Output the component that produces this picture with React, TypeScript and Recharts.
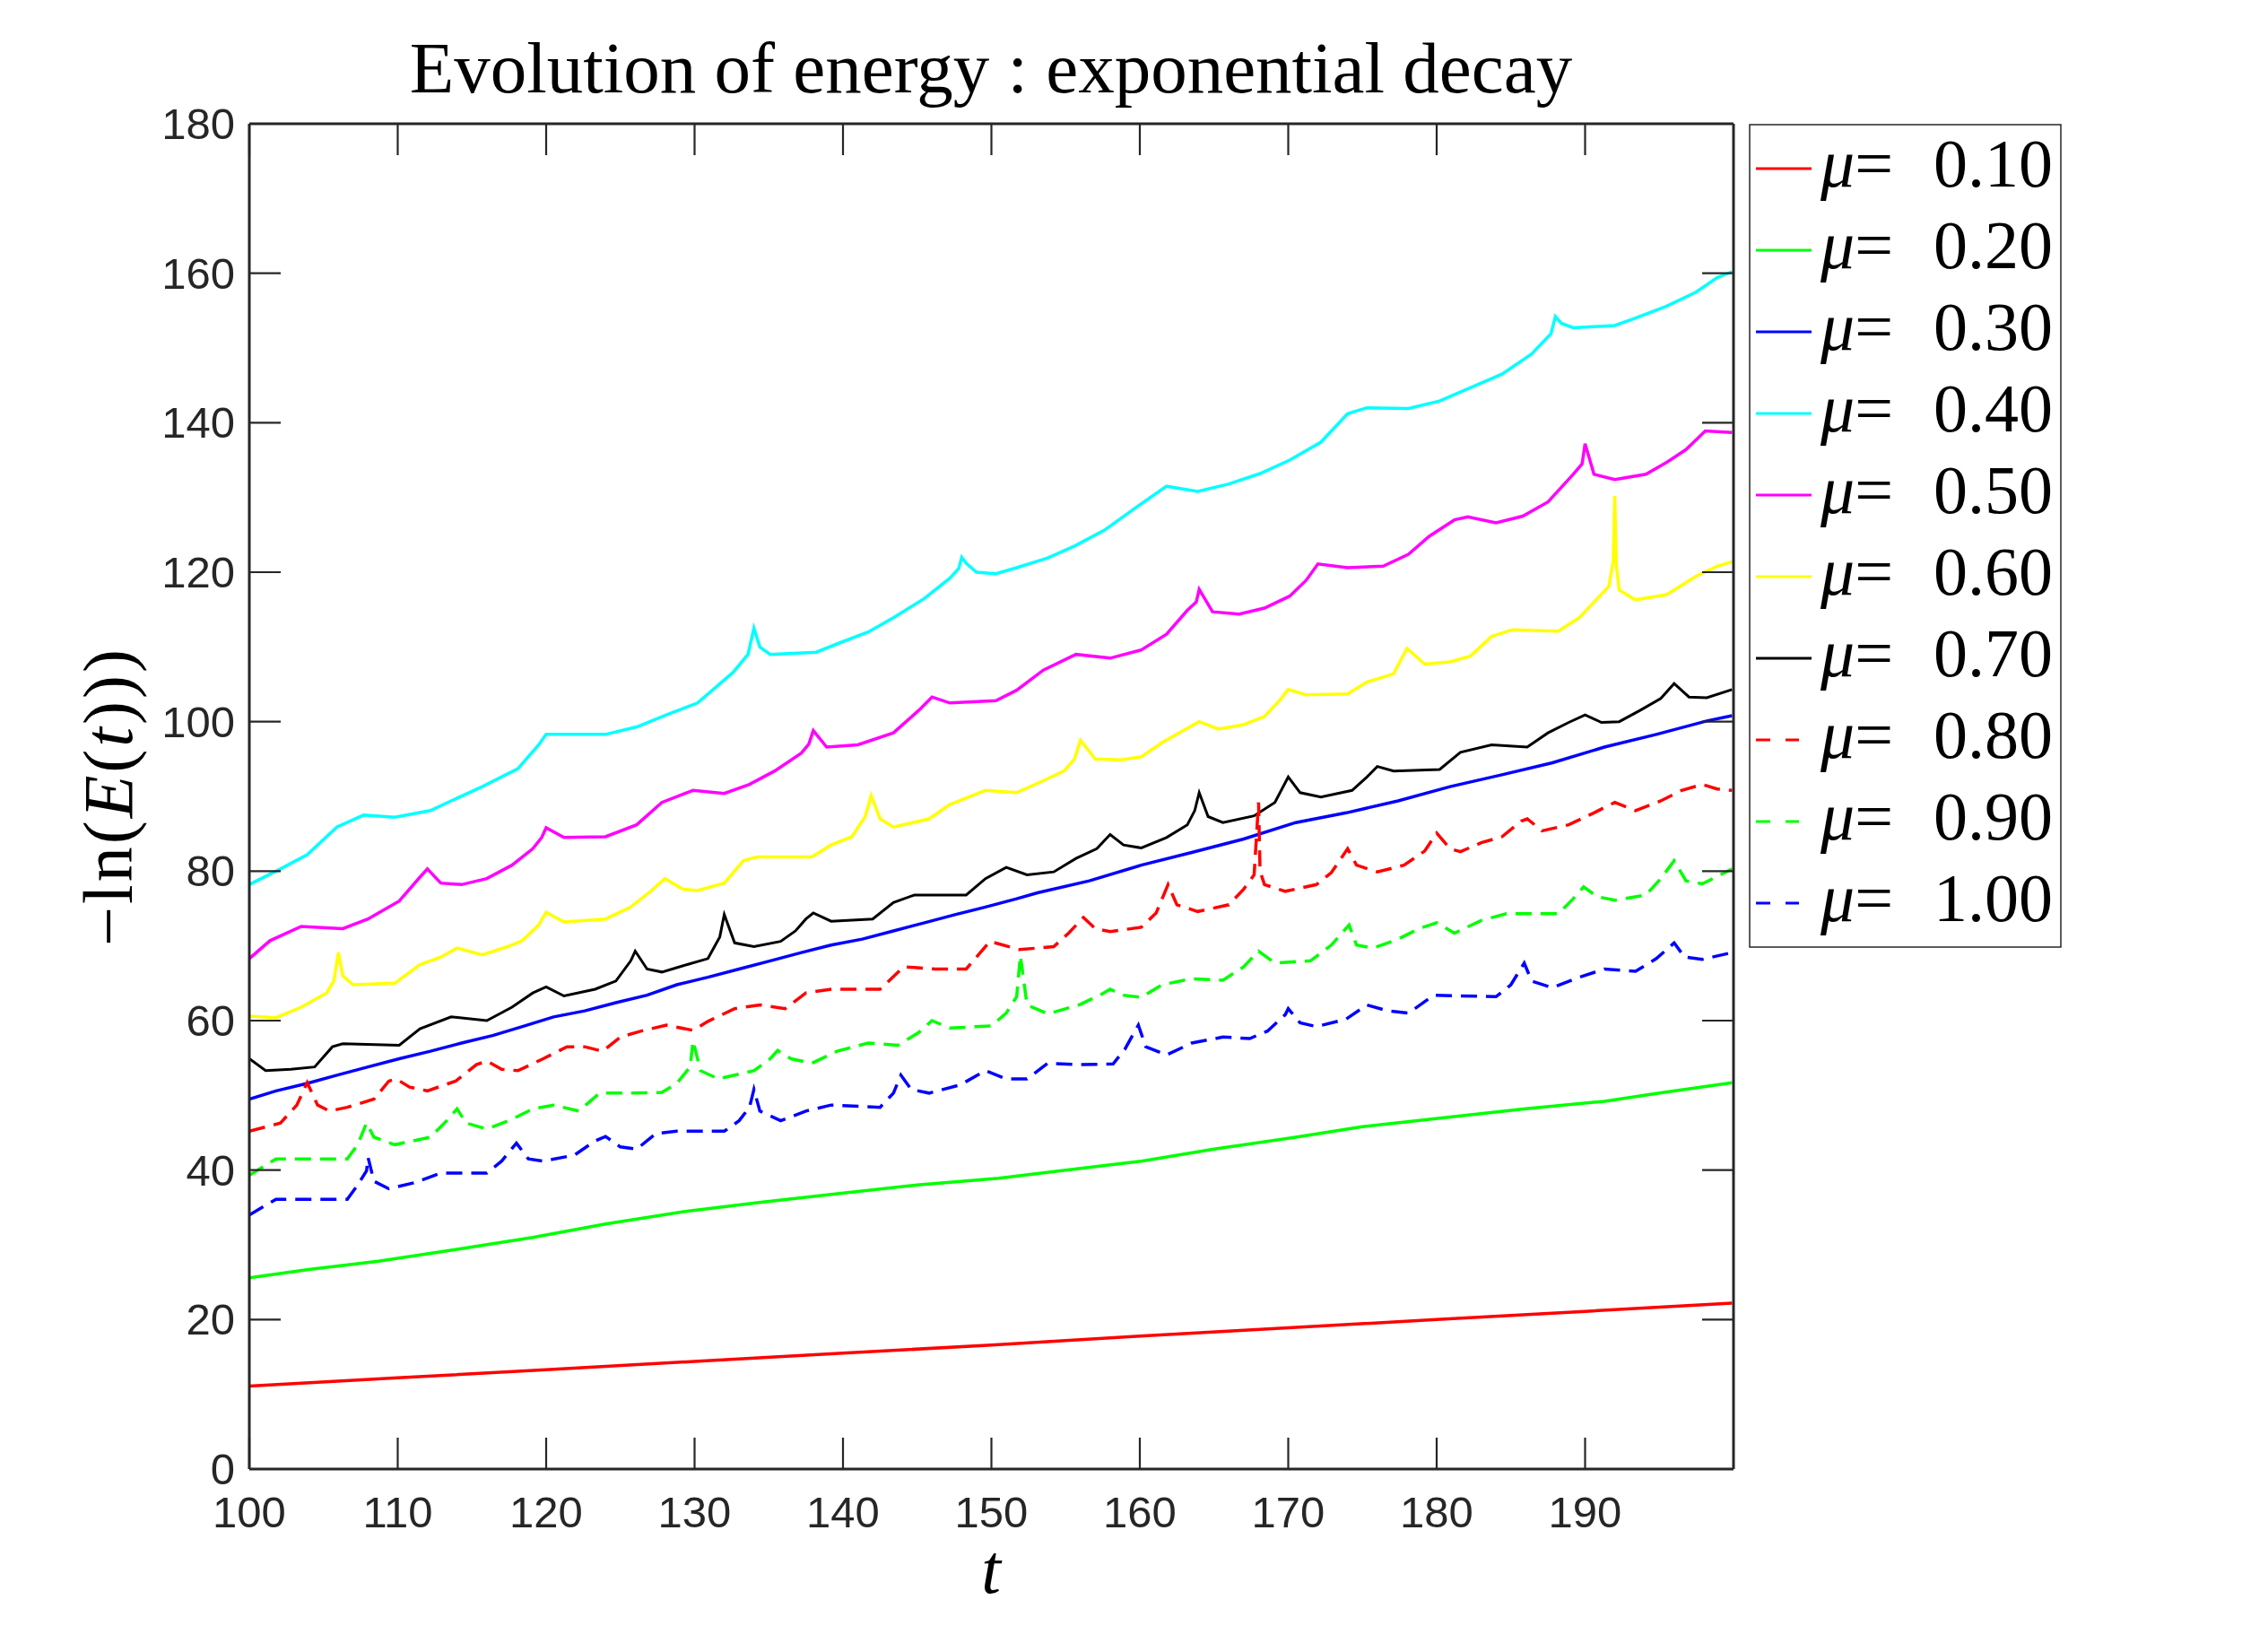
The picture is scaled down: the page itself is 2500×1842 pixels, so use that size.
import { Line, LineChart, XAxis, YAxis } from "recharts";

// axis ticks
const xTicks = [100, 110, 120, 130, 140, 150, 160, 170, 180, 190];
const yTicks = [0, 20, 40, 60, 80, 100, 120, 140, 160, 180];

// -ln(E(t)), [t, value]
const mu01: [number, number][] = [
  [100, 11.1], [110, 12.2], [120, 13.3], [130, 14.4], [140, 15.5], [150, 16.6],
  [160, 17.8], [170, 18.9], [180, 20.0], [190, 21.1], [199.9, 22.2],
];

const mu02: [number, number][] = [
  [100, 25.6], [104, 26.7], [108.7, 27.8], [114, 29.4], [119.1, 31.0], [124, 32.8],
  [129.5, 34.5], [134.5, 35.7], [139.9, 36.9], [145, 38.0], [150.5, 38.9], [155, 40.0],
  [160.1, 41.2], [165, 42.8], [170.5, 44.4], [175, 45.8], [180.9, 47.1], [186, 48.2],
  [191.3, 49.2], [195, 50.3], [199.9, 51.7],
];

const mu03: [number, number][] = [
  [100, 49.5], [101.8, 50.6], [103.9, 51.6], [105.9, 52.7], [108, 53.8], [110.1, 54.9],
  [112.2, 55.9], [114.3, 57.0], [116.4, 58.0], [118.4, 59.2], [120.5, 60.5], [122.6, 61.3],
  [124.7, 62.4], [126.8, 63.4], [128.8, 64.8], [130.9, 65.8], [133, 66.9], [135.1, 68.0],
  [137.2, 69.1], [139.2, 70.1], [141.3, 70.9], [143.4, 72.0], [145.5, 73.1], [147.6, 74.2],
  [149.6, 75.2], [151.7, 76.3], [153.1, 77.1], [156.6, 78.7], [160.1, 80.8], [163.5, 82.5],
  [167, 84.3], [170.5, 86.5], [173.9, 87.8], [177.4, 89.4], [180.9, 91.3], [184.4, 92.9],
  [187.8, 94.5], [191.3, 96.6], [194.8, 98.3], [198.2, 100.1], [199.9, 100.8],
];

const mu04: [number, number][] = [
  [100, 78.2], [102.1, 80.3], [103.9, 82.2], [105.9, 85.9], [107.7, 87.5], [109.8, 87.2],
  [112.2, 88.1], [113.6, 89.4], [115.7, 91.3], [118.1, 93.7], [119.5, 96.9], [120, 98.3],
  [124, 98.3], [126.1, 99.3], [128.1, 100.9], [130.2, 102.5], [132.6, 106.6], [133.6, 109.0],
  [134, 112.5], [134.4, 110.0], [135.1, 109.0], [138.2, 109.3], [139.6, 110.4], [141.7, 112.0],
  [143.4, 113.9], [145.5, 116.5], [147.2, 119.2], [147.8, 120.5], [148, 122.0], [148.3, 121.2],
  [149, 120.0], [150.3, 119.8], [151.7, 120.6], [153.8, 121.9], [155.6, 123.5], [157.6, 125.6],
  [159.7, 128.6], [161.8, 131.5], [163.9, 130.8], [166, 131.8], [168.1, 133.2], [170.1, 135.0],
  [172.2, 137.4], [174, 141.2], [175.3, 142.0], [178.1, 141.9], [180.2, 142.9], [182.3, 144.7],
  [184.4, 146.5], [186.4, 149.2], [187.7, 151.9], [188, 154.2], [188.4, 153.3], [189.2, 152.7],
  [192, 153.0], [193.4, 154.0], [195.5, 155.6], [197.5, 157.5], [198.9, 159.4], [199.9, 160.2],
];

const mu05: [number, number][] = [
  [100, 68.3], [101.4, 70.7], [103.5, 72.6], [106.3, 72.3], [108, 73.6], [110.1, 76.0],
  [111.5, 79.2], [112, 80.3], [112.9, 78.4], [114.3, 78.2], [116, 79.0], [117.7, 80.8],
  [119.1, 83.0], [119.7, 84.5], [120, 85.8], [121.2, 84.5], [124, 84.6], [126.1, 86.2],
  [127.8, 89.2], [129.9, 90.8], [132, 90.4], [133.7, 91.6], [135.4, 93.4], [137.2, 95.8],
  [137.7, 97.0], [138, 98.8], [138.9, 96.6], [141, 96.9], [143.4, 98.5], [145.1, 101.5],
  [146, 103.3], [147.2, 102.5], [150.3, 102.8], [151.7, 104.2], [153.5, 106.9], [155.7, 109.0],
  [158, 108.5], [160.1, 109.6], [161.8, 111.7], [163.2, 114.9], [163.8, 116.0], [164, 117.7],
  [164.9, 114.7], [166.7, 114.4], [168.4, 115.2], [170.1, 116.8], [171.2, 118.9], [172, 121.1],
  [174, 120.6], [176.4, 120.8], [178.1, 122.4], [179.5, 124.8], [181.2, 127.0], [182.1, 127.4],
  [184, 126.6], [185.8, 127.5], [187.5, 129.4], [189.2, 133.1], [189.8, 134.5], [190, 137.2],
  [190.6, 133.1], [192, 132.4], [194.1, 133.1], [195.5, 134.7], [196.8, 136.4], [198.1, 138.9],
  [199.9, 138.7],
];

const mu06: [number, number][] = [
  [100, 60.6], [101.8, 60.4], [103.5, 61.8], [105.2, 63.7], [105.7, 65.3], [106, 69.1],
  [106.3, 66.0], [107, 64.8], [109.8, 65.0], [111.5, 67.5], [112.9, 68.5], [114, 69.7],
  [115.7, 68.8], [117.4, 69.9], [118.4, 70.7], [119.5, 72.8], [120, 74.5], [121.2, 73.2],
  [124, 73.6], [125.7, 75.2], [127.1, 77.4], [128, 79.0], [129.2, 77.6], [130.2, 77.4],
  [132, 78.4], [133.3, 81.4], [134.2, 81.9], [137.9, 81.9], [139.2, 83.5], [140.6, 84.6],
  [141.5, 87.3], [141.9, 90.1], [142.5, 87.0], [143.4, 85.9], [145.8, 87.0], [147.2, 88.9],
  [149.6, 90.8], [151.7, 90.5], [153.5, 92.1], [154.9, 93.4], [155.6, 95.0], [156, 97.5],
  [157, 95.0], [158.7, 94.9], [160.1, 95.3], [161.5, 97.2], [162.9, 98.8], [164, 100.0],
  [165.3, 99.0], [167, 99.6], [168.4, 100.7], [169.4, 102.8], [170, 104.3], [171.2, 103.6],
  [174, 103.7], [175.3, 105.3], [177.1, 106.4], [178, 109.8], [179.2, 107.7], [180.9, 108.0],
  [182.3, 108.8], [183.7, 111.4], [185.1, 112.3], [188.2, 112.1], [189.6, 113.9], [190.6, 116.0],
  [191.6, 118.1], [191.9, 121.5], [192, 130.2], [192.1, 121.0], [192.3, 117.6], [193.4, 116.3],
  [195.5, 117.0], [197.5, 119.5], [198.9, 120.8], [199.9, 121.4],
];

const mu07: [number, number][] = [
  [100, 54.9], [101.1, 53.3], [102.8, 53.5], [104.4, 53.8], [105.6, 56.5], [106.3, 56.9],
  [110.1, 56.7], [111.5, 58.9], [113.6, 60.5], [116, 60.0], [117.7, 61.8], [119.1, 63.7],
  [120, 64.5], [121.2, 63.3], [123.3, 64.2], [124.7, 65.3], [125.7, 68.0], [126, 69.3],
  [126.8, 66.9], [127.8, 66.5], [129.5, 67.5], [130.9, 68.3], [131.7, 71.2], [132, 74.2],
  [132.7, 70.4], [134, 69.9], [135.8, 70.6], [136.8, 72.0], [137.5, 73.6], [138, 74.4],
  [139.2, 73.3], [142, 73.6], [143.4, 75.8], [144.8, 76.8], [148.3, 76.8], [149.6, 79.0],
  [151, 80.5], [152.4, 79.5], [154.2, 79.9], [155.7, 81.7], [157.1, 83.0], [158, 84.9],
  [158.9, 83.5], [160.1, 83.1], [161.8, 84.5], [163.2, 86.2], [163.7, 88.1], [164, 90.5],
  [164.6, 87.3], [165.6, 86.5], [167.7, 87.4], [169.1, 89.2], [170, 92.6], [170.8, 90.5],
  [172.2, 89.9], [174.3, 90.8], [175.3, 92.6], [176, 94.0], [177.1, 93.4], [180.2, 93.6],
  [181.6, 95.9], [183.7, 96.9], [186.1, 96.6], [187.5, 98.5], [188.9, 99.9], [190, 100.9],
  [191.1, 99.9], [192.3, 100.0], [193.7, 101.5], [195.1, 103.1], [196, 105.1], [197, 103.3],
  [198.2, 103.2], [199.9, 104.3],
];

const mu08: [number, number][] = [
  [100, 45.2], [102.1, 46.3], [103.2, 48.7], [103.9, 51.7], [104.6, 48.7], [105.4, 47.9],
  [106.6, 48.4], [108.4, 49.5], [109.4, 51.9], [109.9, 52.2], [110.8, 51.1], [112, 50.6],
  [113.9, 51.9], [115.3, 54.1], [116, 54.6], [117, 53.5], [118.1, 53.3], [119.8, 54.9],
  [121.4, 56.5], [122.6, 56.5], [123.8, 55.9], [125, 57.8], [126.4, 58.6], [128.1, 59.4],
  [129.9, 58.7], [130.9, 59.9], [132.7, 61.6], [134.4, 62.1], [136.1, 61.6], [137.5, 63.7],
  [139.2, 64.2], [142.5, 64.2], [144.1, 67.2], [146.2, 66.9], [148.3, 66.9], [149.9, 70.6],
  [151.9, 69.5], [154.2, 69.9], [155.2, 71.7], [156.2, 73.8], [157, 72.3], [158, 71.9],
  [160.1, 72.5], [161.1, 74.4], [161.9, 78.2], [162.5, 75.5], [163.9, 74.6], [166, 75.5],
  [167, 77.6], [167.7, 79.5], [168, 89.2], [168.1, 80.0], [168.4, 78.2], [169.8, 77.3],
  [171.9, 78.2], [172.9, 79.8], [174, 83.0], [174.6, 80.8], [176, 79.9], [177.8, 80.8],
  [179.2, 82.7], [180, 85.1], [180.9, 83.0], [181.6, 82.6], [183, 83.8], [184.4, 84.6],
  [185.7, 86.7], [186.1, 87.0], [187.1, 85.4], [188.9, 86.2], [190.6, 87.8], [192, 89.2],
  [193.4, 88.1], [195.1, 89.4], [196.5, 90.8], [197.9, 91.6], [198.9, 91.0], [199.9, 90.8],
];

const mu09: [number, number][] = [
  [100, 39.3], [101.8, 41.5], [106.6, 41.5], [107.3, 43.4], [107.9, 46.3], [108.4, 44.4],
  [109.8, 43.4], [112.2, 44.4], [113.3, 46.6], [114, 48.2], [114.6, 46.3], [116, 45.5],
  [117.7, 46.8], [119.1, 48.2], [120.5, 48.7], [122.2, 47.9], [123.6, 50.3], [125.7, 50.3],
  [127.8, 50.4], [128.8, 51.6], [129.7, 53.8], [129.9, 57.3], [130.4, 53.3], [131.6, 52.2],
  [134, 53.3], [135.1, 54.9], [135.6, 56.0], [136.5, 54.9], [137.9, 54.3], [139.6, 55.9],
  [141.7, 57.0], [143.7, 56.7], [145.1, 58.4], [146, 60.0], [147.2, 59.0], [150, 59.3],
  [151, 61.0], [151.7, 63.2], [151.95, 68.7], [152.4, 62.1], [153.8, 60.9], [155.9, 62.1],
  [157.3, 63.4], [158, 64.2], [158.9, 63.4], [160.1, 63.1], [161.5, 64.8], [163.5, 65.6],
  [165.6, 65.4], [167, 67.2], [168, 69.3], [169.1, 67.7], [171.5, 68.0], [172.9, 70.1],
  [174.1, 72.8], [174.6, 70.1], [175.7, 69.7], [177.4, 70.9], [178.8, 72.3], [180, 73.1],
  [181.2, 71.7], [183, 73.4], [184.7, 74.3], [188.2, 74.3], [189.2, 76.3], [189.9, 77.9],
  [190.8, 76.6], [192, 76.1], [194.1, 76.8], [195.1, 79.0], [196, 81.4], [196.8, 78.7],
  [197.9, 78.3], [199.9, 80.3],
];

const mu10: [number, number][] = [
  [100, 34.0], [101.8, 36.1], [106.6, 36.1], [107.3, 38.0], [107.9, 39.9], [108, 41.7],
  [108.4, 38.5], [109.4, 37.5], [111.1, 38.3], [112.9, 39.6], [116, 39.6], [117, 41.2],
  [118, 43.6], [118.8, 41.5], [119.8, 41.2], [121.9, 42.0], [123.3, 43.9], [124, 44.5],
  [125, 43.1], [126.1, 42.8], [127.4, 44.9], [128.8, 45.2], [132, 45.2], [133, 46.6],
  [133.7, 48.4], [134, 50.8], [134.4, 47.9], [135.8, 46.6], [137.5, 47.9], [139.2, 48.7],
  [142.5, 48.4], [143.4, 50.3], [143.9, 52.7], [144.6, 50.8], [145.8, 50.3], [147.9, 51.4],
  [149.6, 53.3], [151, 52.2], [152.4, 52.2], [153.8, 54.3], [155.9, 54.1], [158.2, 54.2],
  [159, 56.2], [159.9, 59.4], [160.4, 56.5], [161.8, 55.4], [163.5, 57.0], [165.6, 57.8],
  [167.4, 57.6], [168.6, 58.6], [169.8, 60.8], [170, 61.6], [170.8, 59.7], [171.9, 59.2],
  [173.9, 60.2], [175.3, 62.1], [176.7, 61.3], [178.1, 61.0], [179.8, 63.4], [184, 63.2],
  [185, 64.8], [185.9, 67.7], [186.4, 65.3], [187.8, 64.4], [189.6, 65.8], [191.3, 66.9],
  [193.4, 66.6], [194.8, 68.3], [196, 70.4], [196.7, 68.5], [197.9, 68.2], [199.9, 69.1],
];

const series = [
  { label: "0.10", points: mu01, color: "#ff0000", dashed: false },
  { label: "0.20", points: mu02, color: "#00ff00", dashed: false },
  { label: "0.30", points: mu03, color: "#0000ff", dashed: false },
  { label: "0.40", points: mu04, color: "#00ffff", dashed: false },
  { label: "0.50", points: mu05, color: "#ff00ff", dashed: false },
  { label: "0.60", points: mu06, color: "#ffff00", dashed: false },
  { label: "0.70", points: mu07, color: "#000000", dashed: false },
  { label: "0.80", points: mu08, color: "#ff0000", dashed: true },
  { label: "0.90", points: mu09, color: "#00ff00", dashed: true },
  { label: "1.00", points: mu10, color: "#0000ff", dashed: true },
];

const AXIS = "#262626";
const SANS = "'Liberation Sans', Arial, sans-serif";
const SERIF = "'Liberation Serif', 'Times New Roman', serif";
const TICK_LEN = 35;

// inward ticks, MATLAB box style
const BottomTick = ({ x, y, payload }: any) => (
  <g>
    <line x1={x} y1={y} x2={x} y2={y - TICK_LEN} stroke={AXIS} strokeWidth={2.2} />
    <text x={x} y={y + 65} textAnchor="middle" fontSize={49} fontFamily={SANS} fill={AXIS}>
      {payload.value}
    </text>
  </g>
);

const LeftTick = ({ x, y, payload }: any) => (
  <g>
    <line x1={x} y1={y} x2={x + TICK_LEN} y2={y} stroke={AXIS} strokeWidth={2.2} />
    <text x={x - 16} y={y + 17} textAnchor="end" fontSize={49} fontFamily={SANS} fill={AXIS}>
      {payload.value}
    </text>
  </g>
);

const TopTick = ({ x, y }: any) => (
  <line x1={x} y1={y} x2={x} y2={y + TICK_LEN} stroke={AXIS} strokeWidth={2.2} />
);

const RightTick = ({ x, y }: any) => (
  <line x1={x} y1={y} x2={x - TICK_LEN} y2={y} stroke={AXIS} strokeWidth={2.2} />
);

export default function App() {
  return (
    <div
      style={{
        position: "absolute",
        left: 0,
        top: 0,
        width: 2500,
        height: 1842,
        background: "#ffffff",
      }}
    >
      <LineChart width={2500} height={1842} margin={{ top: 137, right: 566, bottom: 104, left: 0 }}>
        <XAxis
          xAxisId="bottom"
          dataKey="t"
          type="number"
          domain={[100, 200]}
          ticks={xTicks}
          interval={0}
          allowDataOverflow
          height={100}
          tickSize={0}
          tickMargin={0}
          tickLine={false}
          tick={<BottomTick />}
          axisLine={{ stroke: AXIS, strokeWidth: 3 }}
        />
        <XAxis
          xAxisId="top"
          orientation="top"
          dataKey="t"
          type="number"
          domain={[100, 200]}
          ticks={xTicks}
          interval={0}
          allowDataOverflow
          height={1}
          tickSize={0}
          tickMargin={0}
          tickLine={false}
          tick={<TopTick />}
          axisLine={{ stroke: AXIS, strokeWidth: 3 }}
        />
        <YAxis
          yAxisId="left"
          type="number"
          domain={[0, 180]}
          ticks={yTicks}
          interval={0}
          allowDataOverflow
          width={278}
          tickSize={0}
          tickMargin={0}
          tickLine={false}
          tick={<LeftTick />}
          axisLine={{ stroke: AXIS, strokeWidth: 3 }}
        />
        <YAxis
          yAxisId="right"
          orientation="right"
          type="number"
          domain={[0, 180]}
          ticks={yTicks}
          interval={0}
          allowDataOverflow
          width={1}
          tickSize={0}
          tickMargin={0}
          tickLine={false}
          tick={<RightTick />}
          axisLine={{ stroke: AXIS, strokeWidth: 3 }}
        />
        {series.map((s, i) => (
          <Line
            key={s.label}
            // the first series sits on the top/right pair (same scales) so those axes render too
            xAxisId={i === 0 ? "top" : "bottom"}
            yAxisId={i === 0 ? "right" : "left"}
            data={s.points.map(([t, v]) => ({ t, v }))}
            dataKey="v"
            type="linear"
            stroke={s.color}
            strokeWidth={s.color === "#000000" ? 3 : 3.5}
            strokeDasharray={s.dashed ? "18 10" : undefined}
            dot={false}
            activeDot={false}
            isAnimationActive={false}
          />
        ))}
      </LineChart>

      {/* titles and legend */}
      <svg
        width={2500}
        height={1842}
        style={{ position: "absolute", left: 0, top: 0, pointerEvents: "none" }}
      >
        <text x={1105} y={103} textAnchor="middle" fontSize={81} fontFamily={SERIF} fill="#000">
          Evolution of energy : exponential decay
        </text>
        <text x={1105} y={1776} textAnchor="middle" fontSize={78} fontFamily={SERIF} fontStyle="italic" fill="#000">
          t
        </text>
        <text
          x={147}
          y={888}
          transform="rotate(-90 147 888)"
          textAnchor="middle"
          fontSize={78}
          fontFamily={SERIF}
          letterSpacing={3}
          fill="#000"
        >
          −ln(<tspan fontStyle="italic">E</tspan>(<tspan fontStyle="italic">t</tspan>)))
        </text>

        <rect x={1951} y={139} width={347} height={917} fill="#fff" stroke={AXIS} strokeWidth={1.5} />
        {series.map((s, i) => {
          const cy = 188 + i * 91;
          return (
            <g key={s.label}>
              <line
                x1={1958}
                y1={cy}
                x2={s.dashed ? 2006 : 2020}
                y2={cy}
                stroke={s.color}
                strokeWidth={3}
                strokeDasharray={s.dashed ? "16 17" : undefined}
              />
              <text x={2030} y={cy + 20} fontSize={76} fontFamily={SERIF} fill="#000">
                <tspan fontStyle="italic">μ</tspan>=
              </text>
              <text x={2289} y={cy + 20} textAnchor="end" fontSize={76} fontFamily={SERIF} fill="#000">
                {s.label}
              </text>
            </g>
          );
        })}
      </svg>
    </div>
  );
}
